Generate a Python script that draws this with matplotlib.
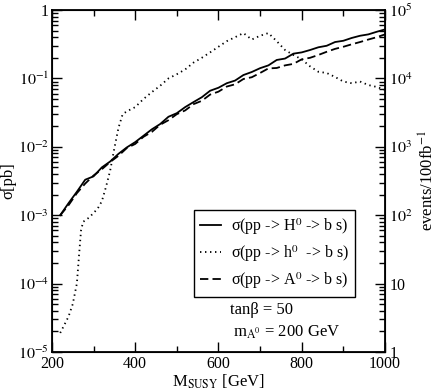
import numpy as np
import matplotlib
matplotlib.use('Agg')
import matplotlib.pyplot as plt

plt.rcParams['font.family'] = ['Liberation Serif', 'DejaVu Serif']
plt.rcParams['mathtext.fontset'] = 'stix'
plt.rcParams['lines.scale_dashes'] = False

# M_SUSY [GeV]
m_heavy = [220, 240, 260, 280, 300, 320, 340, 360, 380, 400,
           420, 440, 460, 480, 500, 520, 540, 560, 580, 600,
           620, 640, 660, 680, 700, 720, 740, 760, 780, 800,
           820, 840, 860, 880, 900, 920, 940, 960, 980, 1000]
# sigma(pp -> H0 -> b s) [pb]
sig_H = [1.0e-3, 1.5e-3, 2.2e-3, 3.3e-3, 3.7e-3, 5.0e-3, 6.1e-3, 7.9e-3, 9.8e-3, 1.17e-2,
         1.45e-2, 1.8e-2, 2.15e-2, 2.75e-2, 3.1e-2, 3.8e-2, 4.5e-2, 5.3e-2, 6.6e-2, 7.3e-2,
         8.5e-2, 9.3e-2, 0.112, 0.124, 0.141, 0.155, 0.186, 0.195, 0.23, 0.24,
         0.26, 0.285, 0.30, 0.34, 0.355, 0.39, 0.42, 0.44, 0.48, 0.52]
# sigma(pp -> A0 -> b s) [pb]
sig_A = [1.0e-3, 1.4e-3, 2.1e-3, 2.9e-3, 3.8e-3, 4.7e-3, 6.0e-3, 7.4e-3, 9.6e-3, 1.1e-2,
         1.4e-2, 1.65e-2, 2.1e-2, 2.45e-2, 3.0e-2, 3.4e-2, 4.2e-2, 4.7e-2, 5.8e-2, 6.4e-2,
         7.6e-2, 8.2e-2, 0.098, 0.104, 0.12, 0.14, 0.142, 0.155, 0.163, 0.19,
         0.20, 0.22, 0.245, 0.27, 0.29, 0.315, 0.34, 0.37, 0.40, 0.44]

m_light = [220, 230, 240, 250, 260, 265, 270, 275, 290, 310,
           320, 330, 340, 350, 360, 370, 380, 400, 420, 440,
           460, 480, 500, 520, 540, 560, 580, 600, 620, 640,
           660, 680, 700, 720, 740, 760, 780, 800, 820, 840,
           860, 880, 900, 920, 940, 960, 980, 1000]
# sigma(pp -> h0 -> b s) [pb]
sig_h = [1.9e-5, 2.5e-5, 3.3e-5, 5.0e-5, 1.0e-4, 2.5e-4, 6.0e-4, 8.0e-4, 9.3e-4, 1.25e-3,
         1.6e-3, 2.6e-3, 4.5e-3, 9.5e-3, 1.9e-2, 3.0e-2, 3.3e-2, 3.8e-2, 5.0e-2, 6.3e-2,
         7.8e-2, 0.10, 0.115, 0.135, 0.17, 0.20, 0.24, 0.29, 0.35, 0.40,
         0.46, 0.37, 0.42, 0.46, 0.35, 0.26, 0.22, 0.19, 0.15, 0.125,
         0.12, 0.105, 0.09, 0.085, 0.09, 0.08, 0.075, 0.068]

left_ticks = [1e-5, 1e-4, 1e-3, 1e-2, 1e-1, 1]
left_labels = [r'$10^{-5}$', r'$10^{-4}$', r'$10^{-3}$', r'$10^{-2}$', r'$10^{-1}$', '1']
right_ticks = [1, 10, 1e2, 1e3, 1e4, 1e5]
right_labels = ['1', '10', r'$10^{2}$', r'$10^{3}$', r'$10^{4}$', r'$10^{5}$']
x_ticks = [200, 400, 600, 800, 1000]

fig = plt.figure(figsize=(4.36, 3.92), dpi=100)
ax = fig.add_axes([0.119, 0.102, 0.764, 0.8725])

ax.plot(m_heavy, sig_H, color='black', lw=1.3, ls='-', label=r'σ(pp -> H$^{0}$ -> b s)')
ax.plot(m_light, sig_h, color='black', lw=1.3, ls=(0, (1, 2.6)), label=r'σ(pp -> h$^{0}$  -> b s)')
ax.plot(m_heavy, sig_A, color='black', lw=1.3, ls=(0, (6, 3)), label=r'σ(pp -> A$^{0}$ -> b s)')

ax.set_yscale('log')
ax.set_xlim(200, 1000)
ax.set_ylim(1e-5, 1)
ax.set_yticks(left_ticks)
ax.set_yticklabels(left_labels)
ax.set_xticks(x_ticks)
ax.set_xticks([300, 500, 700, 900], minor=True)
ax.tick_params(which='both', direction='in', top=True, right=False, labelsize=11.5)
ax.tick_params(which='major', length=7, width=1)
ax.tick_params(which='minor', length=4, width=1)
ax.tick_params(axis='x', pad=3)
ax.tick_params(axis='y', pad=2)
for s in ax.spines.values():
    s.set_linewidth(1.3)

ax.set_xlabel(r'M$_{\rm SUSY}$ [GeV]', fontsize=12, labelpad=0)
ax.set_ylabel('σ[pb]', fontsize=12, labelpad=1)

ax2 = ax.twinx()
ax2.set_yscale('log')
ax2.set_ylim(1, 1e5)
ax2.set_yticks(right_ticks)
ax2.set_yticklabels(right_labels)
ax2.tick_params(which='both', direction='in', labelsize=11.5, pad=3)
ax2.tick_params(which='major', length=7, width=1)
ax2.tick_params(which='minor', length=4, width=1)
ax2.set_ylabel(r'events/100fb$^{-1}$', fontsize=12, labelpad=4)

leg = ax.legend(loc='upper left', bbox_to_anchor=(0.426, 0.415), borderaxespad=0,
                fontsize=11.5, handlelength=1.3, handletextpad=0.6, labelspacing=0.4,
                borderpad=0.4, fancybox=False, edgecolor='black', framealpha=1)
leg.get_frame().set_linewidth(1.0)

ax.text(0.534, 0.123, 'tanβ = 50', transform=ax.transAxes, fontsize=12, va='center')
ax.text(0.543, 0.058, r'm$_{\mathrm{A}^0}$ = 200 GeV', transform=ax.transAxes, fontsize=12, va='center')

fig.savefig('out.png', dpi=100)
